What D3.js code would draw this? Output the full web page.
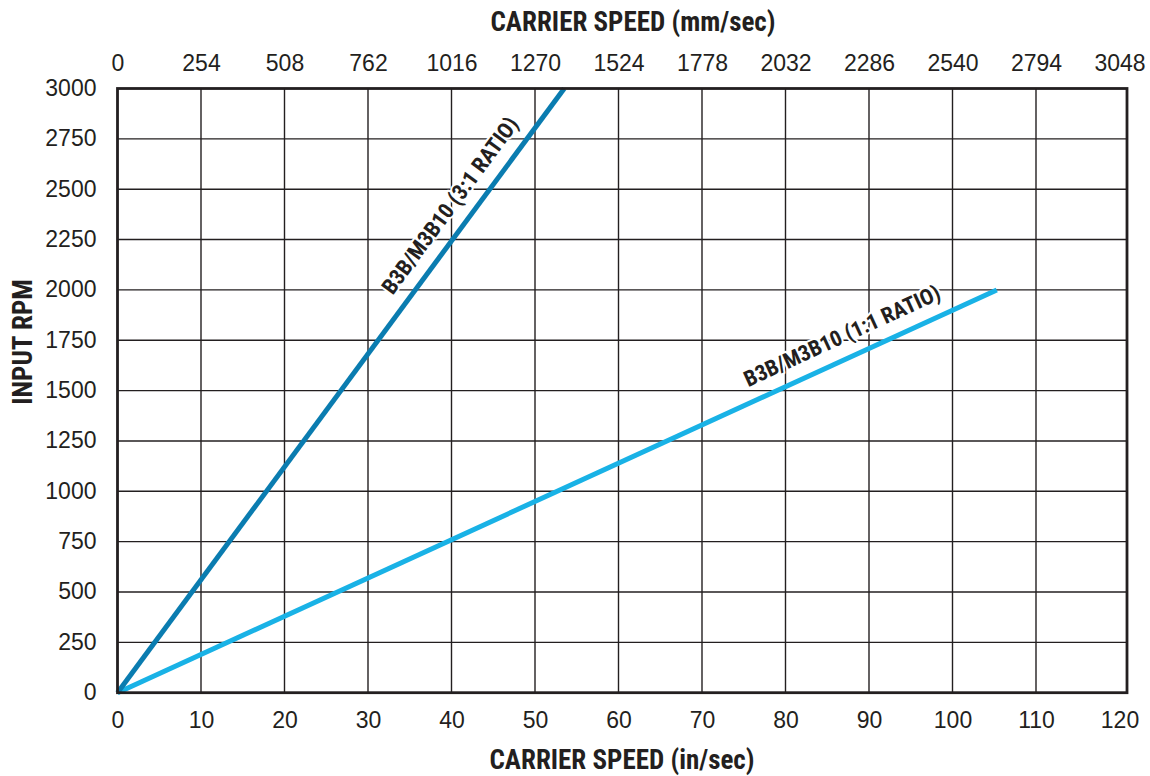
<!DOCTYPE html>
<html>
<head>
<meta charset="utf-8">
<script src="https://cdn.jsdelivr.net/npm/d3@7"></script>
<style>
  html, body { margin: 0; padding: 0; background: #fff; }
  svg { display: block; }
  text { font-family: 'Liberation Sans Narrow', 'Arial Narrow', 'Roboto Condensed', sans-serif; fill: #231f20; }
</style>
</head>
<body>
<svg id="chart" width="1150" height="776"></svg>
<script>
// ---- data ----
const xTicksIn = [0, 10, 20, 30, 40, 50, 60, 70, 80, 90, 100, 110, 120];
const xTicksMm = [0, 254, 508, 762, 1016, 1270, 1524, 1778, 2032, 2286, 2540, 2794, 3048];
const yTicks = [0, 250, 500, 750, 1000, 1250, 1500, 1750, 2000, 2250, 2500, 2750, 3000];
const ratio31Speed = [0, 53.5];
const ratio31Rpm = [0, 3000];
const ratio11Speed = [0, 105.3];
const ratio11Rpm = [0, 2000];
const label31 = { text: "B3B/M3B10 (3:1 RATIO)", speed: 42.0, rpm: 2353 };
const label11 = { text: "B3B/M3B10 (1:1 RATIO)", speed: 87.9, rpm: 1670 };

// ---- layout ----
const L = 117.5, Rscale = 1119.5, Rframe = 1127, T = 88.5, B = 692.7;
const svg = d3.select("#chart");
const x = d3.scaleLinear().domain([0, 120]).range([L, Rscale]);
const xMm = d3.scaleLinear().domain([0, 3048]).range([L, Rscale]);
const y = d3.scaleLinear().domain([0, 3000]).range([B, T]);

// grid
const grid = svg.append("g").attr("stroke", "#231f20").attr("stroke-width", 1.4);
grid.selectAll("line.v").data(xTicksIn.slice(1, -1)).enter().append("line")
  .attr("x1", d => x(d)).attr("x2", d => x(d)).attr("y1", T).attr("y2", B);
grid.selectAll("line.h").data(yTicks.slice(1, -1)).enter().append("line")
  .attr("x1", L).attr("x2", Rframe).attr("y1", d => y(d)).attr("y2", d => y(d));

// series
const lineGen = (sx, sy) => d3.line().x((d, i) => x(sx[i])).y((d, i) => y(sy[i]))(sx);
svg.append("path").attr("d", lineGen(ratio11Speed, ratio11Rpm))
  .attr("fill", "none").attr("stroke", "#19b2e6").attr("stroke-width", 5);
svg.append("path").attr("d", lineGen(ratio31Speed, ratio31Rpm))
  .attr("fill", "none").attr("stroke", "#0a7cb0").attr("stroke-width", 5);

// border
svg.append("rect").attr("x", L).attr("y", T).attr("width", Rframe - L).attr("height", B - T)
  .attr("fill", "none").attr("stroke", "#231f20").attr("stroke-width", 2.8);

// axes labels via d3 axes (no domain / tick lines)
const fs = "23px";
const bottomAxis = svg.append("g").attr("transform", `translate(0,${B})`)
  .call(d3.axisBottom(x).tickValues(xTicksIn).tickSize(0).tickPadding(0).tickFormat(d3.format("d")));
bottomAxis.select(".domain").remove();
bottomAxis.selectAll("text").attr("y", 35).attr("dy", 0).style("font-size", fs).style("fill", "#231f20")
  .style("font-family", "'Liberation Sans Narrow','Arial Narrow',sans-serif");

const topAxis = svg.append("g").attr("transform", `translate(0,${T})`)
  .call(d3.axisTop(xMm).tickValues(xTicksMm).tickSize(0).tickPadding(0).tickFormat(d3.format("d")));
topAxis.select(".domain").remove();
topAxis.selectAll("text").attr("y", -18).attr("dy", 0).style("font-size", fs).style("fill", "#231f20")
  .style("font-family", "'Liberation Sans Narrow','Arial Narrow',sans-serif");

const leftAxis = svg.append("g").attr("transform", `translate(${L},0)`)
  .call(d3.axisLeft(y).tickValues(yTicks).tickSize(0).tickPadding(21).tickFormat(d3.format("d")));
leftAxis.select(".domain").remove();
leftAxis.selectAll("text").attr("dy", "0.3em").style("font-size", fs).style("fill", "#231f20")
  .style("font-family", "'Liberation Sans Narrow','Arial Narrow',sans-serif");

// titles
const titleStyle = sel => sel.style("font-size", "27px").style("font-weight", "bold")
  .attr("text-anchor", "middle");
svg.append("text").attr("x", 633).attr("y", 31).text("CARRIER SPEED (mm/sec)").call(titleStyle);
svg.append("text").attr("x", 622).attr("y", 769).text("CARRIER SPEED (in/sec)").call(titleStyle);
svg.append("text").attr("transform", "translate(32,342) rotate(-90)").text("INPUT RPM").call(titleStyle);

// line labels
function addLabel(lab, sx, sy, off) {
  const ang = Math.atan2(y(sy[1]) - y(sy[0]), x(sx[1]) - x(sx[0])) * 180 / Math.PI;
  svg.append("text")
    .attr("transform", `translate(${x(lab.speed)},${y(lab.rpm)}) rotate(${ang})`)
    .attr("y", -off)
    .attr("text-anchor", "middle")
    .style("font-size", "22px").style("font-weight", "bold")
    .style("paint-order", "stroke").style("stroke", "#fff").style("stroke-width", 4)
    .style("stroke-linejoin", "round")
    .text(lab.text);
}
addLabel(label31, ratio31Speed, ratio31Rpm, 15);
addLabel(label11, ratio11Speed, ratio11Rpm, 15);
</script>
</body>
</html>
